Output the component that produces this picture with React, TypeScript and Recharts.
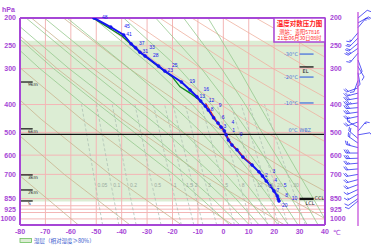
import React from "react";
import {
  ComposedChart,
  Line,
  XAxis,
  YAxis,
  ReferenceLine,
  ReferenceArea,
  Scatter,
  LabelList,
} from "recharts";

const FRAME = "#a646d6";
const GRID = "#f3b6b6";
const HUMID = "#dcedd4";
const TAN = "#c9b48f";
const PINK = "#efb1a0";
const MOIST = "#96c98e";
const MIX = "#a8bcb0";
const BLUE = "#1414f0";
const LEVEL_BLUE = "#4a74dc";

// axes
const tempTicks = [-80, -70, -60, -50, -40, -30, -20, -10, 0, 10, 20, 30, 40];
const pressureTicks = [200, 250, 300, 400, 500, 600, 700, 850, 925, 1000];
const isotherms = [-70, -60, -50, -40, -30, -20, -10, 0, 10, 20, 30];
const isobars = [250, 300, 400, 500, 600, 700, 850, 900, 925, 950, 1000];

// dry adiabats, temperature at each level
const dryLevels = [200, 300, 450, 700, 1050];
const dryThetas = [-60, -40, -20, 0, 20, 40, 60, 80, 100, 120, 140, 160, 180, 200];
const dryTemps = [
  [-138.6, -122.1, -103.5, -80.7, -57.0],
  [-126.0, -107.9, -87.6, -62.6, -36.7],
  [-113.4, -93.7, -71.7, -44.6, -16.4],
  [-100.8, -79.6, -55.8, -26.5, 3.8],
  [-88.1, -65.4, -39.9, -8.4, 24.1],
  [-75.5, -51.2, -24.0, 9.6, 44.4],
  [-62.9, -37.0, -8.0, 27.7, 64.7],
  [-50.3, -22.9, 7.9, 45.7, 85.0],
  [-37.7, -8.7, 23.8, 63.8, 105.3],
  [-25.0, 5.5, 39.7, 81.9, 125.5],
  [-12.4, 19.6, 55.6, 99.9, 145.8],
  [0.2, 33.8, 71.6, 118.0, 166.1],
  [12.8, 48.0, 87.5, 136.0, 186.4],
  [25.5, 62.2, 103.4, 154.1, 206.6],
];

// moist adiabats
const moistLevels = [200, 300, 400, 500, 700, 850, 1050];
const moistTemps = [
  [-94.0, -72.2, -55.0, -41.0, -19.6, -8.7, 2.6],
  [-89.4, -66.8, -49.1, -35.0, -14.9, -4.2, 6.5],
  [-84.0, -60.7, -42.5, -29.0, -9.7, 0.4, 10.3],
  [-77.6, -53.6, -36.0, -22.5, -4.2, 4.9, 14.1],
  [-70.4, -46.0, -28.3, -15.6, 0.9, 9.5, 17.9],
  [-61.5, -36.9, -20.2, -8.6, 6.2, 13.6, 21.6],
  [-51.1, -27.0, -12.2, -2.2, 11.3, 18.4, 25.6],
  [-39.2, -17.4, -4.7, 4.1, 16.3, 22.6, 29.4],
  [-26.6, -8.6, 2.2, 9.9, 20.5, 26.8, 33.1],
  [-15.6, -0.7, 8.6, 15.2, 25.3, 31.4, 37.3],
  [-6.0, 6.0, 14.0, 20.3, 29.8, 35.4, 41.3],
];

// mixing ratio lines (g/kg)
const mixLevels = [1050, 764, 400];
const mixRatios = ["0.05", "0.1", "0.2", "0.5", "1", "1.5", "2", "3", "5", "8", "12", "16", "20", "30"];
const mixTemps = [
  [-47.5, -50.3, -55.8],
  [-41.1, -44.1, -49.9],
  [-34.3, -37.5, -43.7],
  [-24.5, -28.0, -34.8],
  [-16.5, -20.3, -27.5],
  [-11.6, -15.5, -23.1],
  [-8.0, -12.0, -19.8],
  [-2.6, -6.8, -15.0],
  [4.4, 0.0, -8.7],
  [11.2, 6.5, -2.5],
  [17.4, 12.5, 3.0],
  [21.9, 16.8, 7.0],
  [25.5, 20.3, 10.2],
  [32.3, 26.7, 16.2],
];

// sounding
const soundP = [200, 215, 229, 246, 254, 263, 271, 294, 306, 334, 356, 376, 389, 405, 418, 445, 464, 479, 494, 510, 531, 553, 575, 609, 649, 686, 709, 738, 768, 799, 832, 852, 866];
const soundT = [-50.9, -44.3, -39.2, -36.3, -34.5, -32.8, -30.8, -25.5, -23.0, -16.5, -13.1, -10.4, -8.9, -7.1, -5.9, -3.8, -2.1, -0.9, 0.4, 1.1, 2.0, 3.4, 5.4, 7.7, 11.3, 14.0, 15.4, 16.9, 18.5, 19.9, 21.2, 21.6, 21.9];
const soundNum = ["48", "45", "41", "37", "33", "31", "28", "25", "23", "19", "16", "13", "12", "9", "8", "6", "4", "3", "1", "0", "", "", "", "", "", "3", "2", "4", "5", "7", "8", "10", "20"];

const tempP = [395, 411, 430, 453, 470, 483, 500, 519, 544, 575, 609, 649];
const tempT = [-7.0, -5.8, -4.4, -2.9, -1.7, -0.7, 0.6, 1.6, 2.9, 5.6, 8.0, 11.5];

const dewP = [200, 231, 260, 280, 298, 320, 347, 365, 383, 400];
const dewT = [-51.3, -39.9, -33.6, -28.9, -24.9, -20.2, -17.0, -13.1, -10.0, -7.8];

// wind (direction deg, speed m/s)
const windP = [200, 208, 216, 225, 235, 245, 255, 265, 280, 295, 310, 330, 350, 365, 380, 395, 410, 425, 440, 460, 480, 495, 510, 525, 545, 565, 590, 615, 640, 670, 700, 730, 760, 790, 820, 850, 866];
const windDir = [50, 60, 40, 220, 225, 230, 235, 220, 160, 150, 170, 200, 250, 255, 260, 262, 265, 262, 258, 250, 300, 40, 80, 310, 305, 285, 270, 268, 265, 265, 260, 255, 250, 245, 240, 235, 230];
const windSpd = [4, 4, 6, 6, 8, 8, 10, 6, 4, 4, 4, 4, 8, 10, 12, 14, 12, 12, 10, 8, 6, 6, 4, 8, 8, 10, 12, 12, 10, 8, 8, 8, 8, 6, 6, 4, 4];

// annotation levels (hPa)
const heightMarks = [
  { name: "9km", p: 334 },
  { name: "6km", p: 486 },
  { name: "3km", p: 703 },
  { name: "2km", p: 793 },
  { name: "S", p: 866 },
];
const isoLevels = [
  { name: "-30°C", p: 267 },
  { name: "-20°C", p: 321 },
  { name: "-10°C", p: 395 },
];
const zeroLevel = 508;
const elLevel = 296;
const cclLevel = 849;
const lclLevel = 855;

const soundRows = soundP.map((p, i) => ({ p, t: soundT[i], n: soundNum[i] }));
const tempRows = tempP.map((p, i) => ({ p, t: tempT[i] }));
const dewRows = dewP.map((p, i) => ({ p, t: dewT[i] }));
const windRows = windP.map((p, i) => ({ p, dir: windDir[i], spd: windSpd[i] }));

const STAFF_X = 358;

const WindBarb = (props: any) => {
  const { cy, payload } = props;
  if (cy == null || !payload) return null;
  const rad = (payload.dir * Math.PI) / 180;
  const ux = Math.sin(rad);
  const uy = -Math.cos(rad);
  const L = 12;
  const ex = STAFF_X + ux * L;
  const ey = cy + uy * L;
  const px = -uy;
  const py = ux;
  const fx = px * 0.87 + ux * 0.5;
  const fy = py * 0.87 + uy * 0.5;
  const full = Math.floor(payload.spd / 4);
  const half = payload.spd % 4 >= 2 ? 1 : 0;
  const feathers = [];
  let k = 0;
  for (let i = 0; i < full; i++, k++) {
    const bx = ex - ux * k * 1.8;
    const by = ey - uy * k * 1.8;
    feathers.push(
      <line key={"f" + i} x1={bx} y1={by} x2={bx + fx * 4} y2={by + fy * 4} />
    );
  }
  if (half) {
    const bx = ex - ux * k * 1.8;
    const by = ey - uy * k * 1.8;
    feathers.push(<line key="h" x1={bx} y1={by} x2={bx + fx * 2} y2={by + fy * 2} />);
  }
  return (
    <g stroke={BLUE} strokeWidth={0.7} fill="none">
      <line x1={STAFF_X} y1={cy} x2={ex} y2={ey} />
      {feathers}
    </g>
  );
};

const axisTick = { fill: FRAME, fontSize: 7, fontWeight: "bold", fontFamily: "Liberation Sans" };

// labels beside the sounding are staggered in three columns so they do not collide
const sLabel = (props: any) => {
  const { x, y, value, index } = props;
  if (!value) return null;
  const last = index === soundNum.length - 1;
  const dx = last ? 3 : 2.5 + ((index + 1) % 3) * 5.5;
  const dy = last ? 6.5 : 1;
  return (
    <text x={x + dx} y={y + dy} fontSize={5} fill={BLUE} fontFamily="Liberation Sans">
      {value}
    </text>
  );
};

const mixLabel = (props: any) => {
  const { x, y, value } = props;
  if (!value) return null;
  return (
    <text x={x + 2} y={y + 1.5} fontSize={5} fill="#9aaaa0" fontFamily="Liberation Sans">
      {value}
    </text>
  );
};

const smallText = (txt: string, dx: number, dy: number, anchor: string, color: string, size: number) =>
  (props: any) => {
    const vb = props.viewBox || {};
    return (
      <text x={(vb.x || 0) + dx} y={(vb.y || 0) + dy} fontSize={size} fill={color} textAnchor={anchor} fontFamily="DejaVu Sans">
        {txt}
      </text>
    );
  };

export default function App() {
  return (
    <div style={{ position: "absolute", left: 0, top: 0, width: 371, height: 245, background: "#fff" }}>
      <ComposedChart width={371} height={245} margin={{ top: 0, right: 0, bottom: 0, left: 0 }}>
        <XAxis xAxisId="t" dataKey="t" type="number" domain={[-80, 40]} ticks={tempTicks} allowDataOverflow
          orientation="bottom" height={20} tickLine={false} tickSize={0} tickMargin={4} interval={0}
          axisLine={{ stroke: FRAME, strokeWidth: 2 }} tick={axisTick} />
        <XAxis xAxisId="top" type="number" domain={[-80, 40]} ticks={tempTicks} allowDataOverflow
          orientation="top" height={18} tickLine={false} tickSize={0} tickMargin={2.5} interval={0}
          axisLine={{ stroke: FRAME, strokeWidth: 2 }} tick={axisTick} />
        <XAxis xAxisId="wx" dataKey="spd" type="number" domain={[0, 100]} hide />
        <YAxis yAxisId="p" type="number" scale="log" domain={[200, 1050]} reversed allowDataOverflow
          ticks={pressureTicks} width={20} tickLine={false} tickSize={0} tickMargin={4} interval={0}
          axisLine={{ stroke: FRAME, strokeWidth: 2 }} tick={axisTick} />
        <YAxis yAxisId="pr" orientation="right" type="number" scale="log" domain={[200, 1050]} reversed allowDataOverflow
          ticks={pressureTicks} width={46} tickLine={false} tickSize={0} tickMargin={5} interval={0}
          axisLine={{ stroke: FRAME, strokeWidth: 2 }} tick={axisTick} />
        <YAxis yAxisId="wy" dataKey="p" type="number" scale="log" domain={[200, 1050]} reversed hide />

        <ReferenceArea xAxisId="t" yAxisId="p" y1={240} y2={870} fill={HUMID} fillOpacity={1} stroke="none" zIndex={-90} />
        {isotherms.map((t) => (
          <ReferenceLine key={"it" + t} xAxisId="t" yAxisId="p" x={t} stroke={GRID} strokeWidth={1} zIndex={-80} />
        ))}
        {isobars.map((p) => (
          <ReferenceLine key={"ib" + p} xAxisId="t" yAxisId="p" y={p} stroke={GRID} strokeWidth={1} zIndex={-80} />
        ))}

        {dryThetas.map((th, i) => (
          <Line key={"d" + th} xAxisId="t" yAxisId="p" data={dryLevels.map((p, j) => ({ p, t: dryTemps[i][j] }))}
            dataKey="p" stroke={th <= 60 ? TAN : PINK} strokeWidth={0.8} dot={false} activeDot={false}
            isAnimationActive={false} zIndex={-60} />
        ))}
        {moistTemps.map((row, i) => (
          <Line key={"m" + i} xAxisId="t" yAxisId="p" data={moistLevels.map((p, j) => ({ p, t: row[j] }))}
            dataKey="p" stroke={MOIST} strokeWidth={0.8} dot={false} activeDot={false}
            isAnimationActive={false} zIndex={-60} />
        ))}
        {mixRatios.map((w, i) => (
          <Line key={"w" + w} xAxisId="t" yAxisId="p"
            data={mixLevels.map((p, j) => ({ p, t: mixTemps[i][j], lab: j === 1 ? w : "" }))}
            dataKey="p" stroke={MIX} strokeWidth={0.7} strokeDasharray="3 2" dot={false} activeDot={false}
            isAnimationActive={false} zIndex={-60}>
            <LabelList dataKey="lab" content={mixLabel} />
          </Line>
        ))}

        <ReferenceLine xAxisId="t" yAxisId="p" y={zeroLevel} stroke="#111" strokeWidth={1.2} zIndex={450}
          label={smallText("0°C  WBZ", 291, -2, "end", LEVEL_BLUE, 5)} />
        {heightMarks.map((h) => (
          <ReferenceLine key={h.name} xAxisId="t" yAxisId="p" segment={[{ x: -80, y: h.p }, { x: -75, y: h.p }]}
            stroke="#111" strokeWidth={1.2} zIndex={450} label={smallText(h.name, 8, 4, "start", "#222", 4.5)} />
        ))}
        {isoLevels.map((h) => (
          <ReferenceLine key={h.name} xAxisId="t" yAxisId="p" segment={[{ x: 30, y: h.p }, { x: 35.5, y: h.p }]}
            stroke={LEVEL_BLUE} strokeWidth={1.3} zIndex={450} label={smallText(h.name, -1.5, 2, "end", LEVEL_BLUE, 5)} />
        ))}
        <ReferenceLine xAxisId="t" yAxisId="p" segment={[{ x: 30, y: elLevel }, { x: 35.5, y: elLevel }]}
          stroke="#111" strokeWidth={1.3} zIndex={450} label={smallText("EL", 6, 6, "middle", "#222", 5)} />
        <ReferenceLine xAxisId="t" yAxisId="p" segment={[{ x: 30, y: cclLevel }, { x: 35.5, y: cclLevel }]}
          stroke="#111" strokeWidth={1.5} zIndex={450} label={smallText("CCL", 15, 2, "start", "#222", 5)} />
        <ReferenceLine xAxisId="t" yAxisId="p" segment={[{ x: 30, y: lclLevel }, { x: 35.5, y: lclLevel }]}
          stroke="#111" strokeWidth={1.5} zIndex={450} label={smallText("LCL", 6, 6, "start", "#222", 5)} />

        <Line xAxisId="t" yAxisId="p" data={dewRows} dataKey="p" stroke="#0f8a1e" strokeWidth={1.3}
          dot={false} activeDot={false} isAnimationActive={false} zIndex={500} />
        <Line xAxisId="t" yAxisId="p" data={soundRows} dataKey="p" stroke={BLUE} strokeWidth={2}
          dot={{ r: 1.5, fill: BLUE, stroke: BLUE, strokeWidth: 0.5 }} activeDot={false}
          isAnimationActive={false} zIndex={510}>
          <LabelList dataKey="n" content={sLabel} />
        </Line>
        <Line xAxisId="t" yAxisId="p" data={tempRows} dataKey="p" stroke="#e8281e" strokeWidth={1}
          dot={false} activeDot={false} isAnimationActive={false} zIndex={520} />

        <Scatter xAxisId="wx" yAxisId="wy" data={windRows} shape={WindBarb} isAnimationActive={false} />
      </ComposedChart>

      <svg width={371} height={245} style={{ position: "absolute", left: 0, top: 0, pointerEvents: "none" }}>
        <text x={2} y={12} fontSize={7} fontWeight="bold" fill={FRAME} fontFamily="Liberation Sans">hPa</text>
        <text x={333} y={235} fontSize={7} fill={FRAME} fontFamily="DejaVu Sans">℃</text>
        <line x1={STAFF_X} y1={12} x2={STAFF_X} y2={226} stroke="#c043d8" strokeWidth={1.2} />
        <rect x={274} y={18} width={51} height={24} fill="#fff" stroke={FRAME} strokeWidth={1.5} />
        <text x={299.5} y={25.5} fontSize={6.5} fontWeight="bold" fill="#ff1a1a" textAnchor="middle" fontFamily="Noto Sans CJK SC">温度对数压力图</text>
        <text x={299.5} y={33.5} fontSize={5.2} fill="#ff1a1a" textAnchor="middle" fontFamily="Noto Sans CJK SC">测站：贵阳57816</text>
        <text x={299.5} y={39.8} fontSize={5.2} fill="#ff1a1a" textAnchor="middle" fontFamily="Noto Sans CJK SC">21年06月30日08时</text>
        <rect x={20} y={238.5} width={11.5} height={4} fill={HUMID} stroke="#6cbf5c" strokeWidth={0.8} />
        <text x={34} y={242.5} fontSize={5.5} fill="#3355cc" fontFamily="Noto Sans CJK SC">湿层（相对湿度≥80%）</text>
      </svg>
    </div>
  );
}
